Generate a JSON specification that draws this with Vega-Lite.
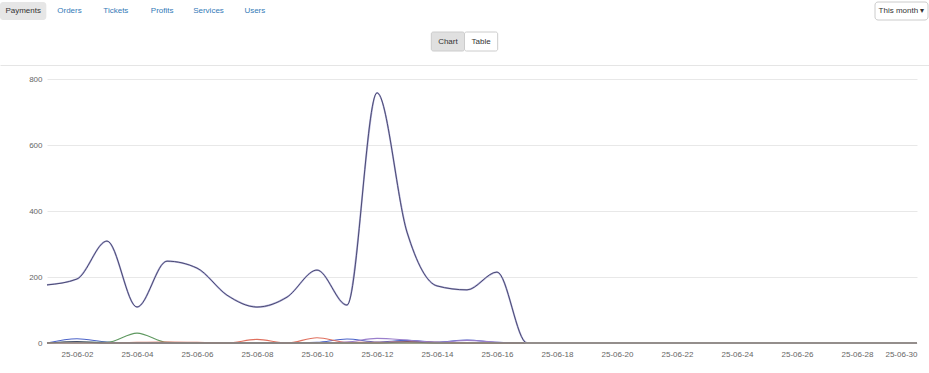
{
  "$schema": "https://vega.github.io/schema/vega-lite/v6.json",
  "background": "#ffffff",
  "padding": {"left": 0, "right": 0, "top": 1, "bottom": 0},
  "config": {
    "view": {"stroke": null},
    "font": "Liberation Sans",
    "axis": {"labelFont": "Liberation Sans", "labelColor": "#666666", "labelFontSize": 8},
    "text": {"font": "Liberation Sans", "fontSize": 8}
  },
  "spacing": 10,
  "vconcat": [
    {
      "width": 882,
      "height": 18,
      "resolve": {"scale": {"x": "independent"}},
      "layer": [
        {
          "data": {"values": [
            {"tab": "Payments"}, {"tab": "Orders"}, {"tab": "Tickets"},
            {"tab": "Profits"}, {"tab": "Services"}, {"tab": "Users"}
          ]},
          "encoding": {
            "x": {"field": "tab", "type": "nominal", "sort": null,
                  "scale": {"type": "band", "paddingInner": 0, "paddingOuter": 0, "range": [-47, 231]}, "axis": null}
          },
          "layer": [
            {"mark": {"type": "rect", "cornerRadius": 3},
             "encoding": {"fill": {"condition": {"test": "datum.tab === 'Payments'", "value": "#e6e6e6"}, "value": "transparent"}}},
            {"mark": {"type": "text", "fontSize": 8},
             "encoding": {"text": {"field": "tab"},
                          "color": {"condition": {"test": "datum.tab === 'Payments'", "value": "#333333"}, "value": "#337ab7"}}}
          ]
        },
        {
          "data": {"values": [{"label": "This month ▾"}]},
          "encoding": {
            "x": {"field": "label", "type": "nominal",
                  "scale": {"type": "band", "paddingInner": 0, "paddingOuter": 0, "range": [828, 881]}, "axis": null}
          },
          "layer": [
            {"mark": {"type": "rect", "cornerRadius": 3, "stroke": "#cccccc", "strokeWidth": 1, "fill": "#ffffff"}},
            {"mark": {"type": "text", "fontSize": 8, "color": "#333333"},
             "encoding": {"text": {"field": "label"}}}
          ]
        }
      ]
    },
    {
      "width": 882,
      "height": 19,
      "data": {"values": [{"button": "Chart"}, {"button": "Table"}]},
      "encoding": {
        "x": {"field": "button", "type": "nominal",
              "scale": {"type": "band", "paddingInner": 0, "paddingOuter": 0, "range": [-47, 882],
                        "domain": ["l01", "l02", "l03", "l04", "l05", "l06", "l07", "l08", "l09", "l10", "l11", "l12", "l13",
                                   "Chart", "Table",
                                   "r01", "r02", "r03", "r04", "r05", "r06", "r07", "r08", "r09", "r10", "r11", "r12", "r13"]},
              "axis": {"orient": "bottom", "offset": 14, "domain": true, "domainColor": "#e5e5e5",
                       "labels": false, "ticks": false, "grid": false, "title": null}}
      },
      "layer": [
        {"mark": {"type": "rect", "cornerRadius": 2, "stroke": "#cccccc", "strokeWidth": 1},
         "encoding": {"fill": {"condition": {"test": "datum.button === 'Chart'", "value": "#e0e0e0"}, "value": "#ffffff"}}},
        {"mark": {"type": "text", "fontSize": 8, "color": "#333333"},
         "encoding": {"text": {"field": "button"}}}
      ]
    },
    {
      "width": 870,
      "height": 264,
      "data": {"values": [
        {"date": "25-06-01", "total": 176, "blue": 0, "green": 0, "red": 0, "purple": 0, "navy": 0, "grey": 0},
        {"date": "25-06-02", "total": 194, "blue": 13, "green": 3, "red": 0, "purple": 0, "navy": 4, "grey": 0},
        {"date": "25-06-03", "total": 309, "blue": 3, "green": 2, "red": 0, "purple": 0, "navy": 0, "grey": 0},
        {"date": "25-06-04", "total": 109, "blue": 0, "green": 30, "red": 2, "purple": 0, "navy": 0, "grey": 0},
        {"date": "25-06-05", "total": 248, "blue": 0, "green": 2, "red": 3, "purple": 0, "navy": 0, "grey": 0},
        {"date": "25-06-06", "total": 227, "blue": 0, "green": 0, "red": 2, "purple": 0, "navy": 0, "grey": 0},
        {"date": "25-06-07", "total": 145, "blue": 0, "green": 0, "red": 0, "purple": 0, "navy": 0, "grey": 0},
        {"date": "25-06-08", "total": 109, "blue": 0, "green": 0, "red": 11, "purple": 0, "navy": 0, "grey": 0},
        {"date": "25-06-09", "total": 139, "blue": 0, "green": 0, "red": 0, "purple": 0, "navy": 0, "grey": 0},
        {"date": "25-06-10", "total": 221, "blue": 2, "green": 0, "red": 16, "purple": 0, "navy": 0, "grey": 0},
        {"date": "25-06-11", "total": 115, "blue": 12, "green": 0, "red": 2, "purple": 3, "navy": 0, "grey": 0},
        {"date": "25-06-12", "total": 758, "blue": 3, "green": 0, "red": 2, "purple": 14, "navy": 0, "grey": 0},
        {"date": "25-06-13", "total": 336, "blue": 8, "green": 0, "red": 4, "purple": 9, "navy": 3, "grey": 0},
        {"date": "25-06-14", "total": 173, "blue": 3, "green": 0, "red": 2, "purple": 2, "navy": 0, "grey": 0},
        {"date": "25-06-15", "total": 161, "blue": 9, "green": 0, "red": 0, "purple": 8, "navy": 0, "grey": 0},
        {"date": "25-06-16", "total": 215, "blue": 2, "green": 0, "red": 0, "purple": 2, "navy": 0, "grey": 0},
        {"date": "25-06-17", "total": 0, "blue": 0, "green": 0, "red": 0, "purple": 0, "navy": 0, "grey": 0},
        {"date": "25-06-18", "total": 0, "blue": 0, "green": 0, "red": 0, "purple": 0, "navy": 0, "grey": 0},
        {"date": "25-06-19", "total": 0, "blue": 0, "green": 0, "red": 0, "purple": 0, "navy": 0, "grey": 0},
        {"date": "25-06-20", "total": 0, "blue": 0, "green": 0, "red": 0, "purple": 0, "navy": 0, "grey": 0},
        {"date": "25-06-21", "total": 0, "blue": 0, "green": 0, "red": 0, "purple": 0, "navy": 0, "grey": 0},
        {"date": "25-06-22", "total": 0, "blue": 0, "green": 0, "red": 0, "purple": 0, "navy": 0, "grey": 0},
        {"date": "25-06-23", "total": 0, "blue": 0, "green": 0, "red": 0, "purple": 0, "navy": 0, "grey": 0},
        {"date": "25-06-24", "total": 0, "blue": 0, "green": 0, "red": 0, "purple": 0, "navy": 0, "grey": 0},
        {"date": "25-06-25", "total": 0, "blue": 0, "green": 0, "red": 0, "purple": 0, "navy": 0, "grey": 0},
        {"date": "25-06-26", "total": 0, "blue": 0, "green": 0, "red": 0, "purple": 0, "navy": 0, "grey": 0},
        {"date": "25-06-27", "total": 0, "blue": 0, "green": 0, "red": 0, "purple": 0, "navy": 0, "grey": 0},
        {"date": "25-06-28", "total": 0, "blue": 0, "green": 0, "red": 0, "purple": 0, "navy": 0, "grey": 0},
        {"date": "25-06-29", "total": 0, "blue": 0, "green": 0, "red": 0, "purple": 0, "navy": 0, "grey": 0},
        {"date": "25-06-30", "total": 0, "blue": 0, "green": 0, "red": 0, "purple": 0, "navy": 0, "grey": 0}
      ]},
      "encoding": {
        "x": {"field": "date", "type": "ordinal", "sort": null,
              "scale": {"type": "point", "padding": 0},
              "axis": {"title": null, "labelAngle": 0, "ticks": false, "domain": false, "grid": false,
                       "labelPadding": 7, "labelFlush": true,
                       "values": ["25-06-02", "25-06-04", "25-06-06", "25-06-08", "25-06-10", "25-06-12", "25-06-14", "25-06-16", "25-06-18", "25-06-20", "25-06-22", "25-06-24", "25-06-26", "25-06-28", "25-06-30"]}}
      },
      "layer": [
        {
          "transform": [{"fold": ["blue", "green", "red", "purple", "navy"], "as": ["series", "value"]}],
          "mark": {"type": "line", "interpolate": "monotone", "strokeWidth": 1.1},
          "encoding": {
            "y": {"field": "value", "type": "quantitative",
                  "scale": {"domain": [0, 800], "nice": false},
                  "axis": {"title": null, "values": [0, 200, 400, 600, 800], "ticks": false, "domain": false,
                           "gridColor": "#e8e8e8", "labelPadding": 5, "minExtent": 47}},
            "color": {"field": "series", "type": "nominal", "legend": null,
                      "scale": {"domain": ["blue", "green", "red", "purple", "navy"],
                                "range": ["#4b63c9", "#5f9960", "#e0705e", "#9a7fcc", "#1f2450"]}}
          }
        },
        {
          "mark": {"type": "line", "interpolate": "monotone", "strokeWidth": 1.8, "color": "#b3b1d8"},
          "encoding": {"y": {"field": "total", "type": "quantitative"}}
        },
        {
          "mark": {"type": "line", "interpolate": "monotone", "strokeWidth": 0.9, "color": "#3d3d68"},
          "encoding": {"y": {"field": "total", "type": "quantitative"}}
        },
        {
          "mark": {"type": "line", "interpolate": "monotone", "strokeWidth": 1.6, "color": "#9c9484"},
          "encoding": {"y": {"field": "grey", "type": "quantitative"}}
        }
      ]
    }
  ]
}
